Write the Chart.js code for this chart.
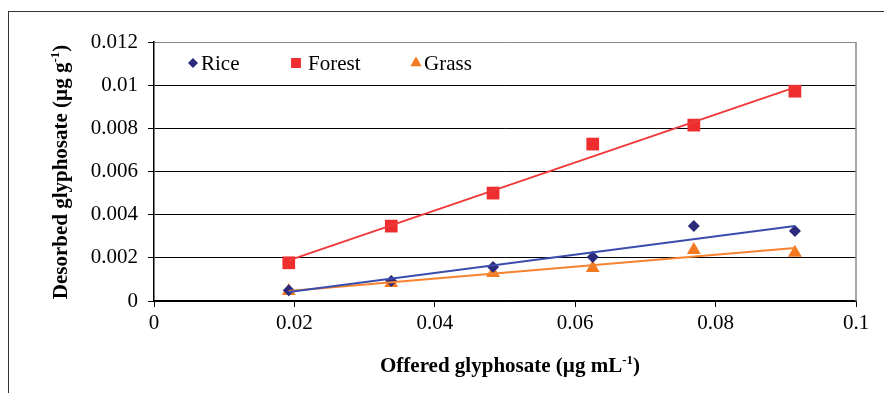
<!DOCTYPE html>
<html>
<head>
<meta charset="utf-8">
<script src="https://cdn.jsdelivr.net/npm/chart.js@4.4.0/dist/chart.umd.min.js"></script>
<style>
  body { margin: 0; background: #fff; }
  .wrap { position: relative; width: 884px; height: 393px; overflow: hidden; }
  .frame { position: absolute; left: 8px; top: 11px; width: 1000px; height: 500px; border-left: 1px solid #333; border-top: 1px solid #333; }
  canvas { position: absolute; left: 0; top: 0; }
</style>
</head>
<body>
<div class="wrap">
  <div class="frame"></div>
  <canvas id="chart" width="884" height="393"></canvas>
</div>
<script>
// offered glyphosate (x) and desorbed glyphosate per soil (y)
const offered = [0.0192, 0.0338, 0.0483, 0.0625, 0.0769, 0.0913]
const rice = [0.0005, 0.00093, 0.00157, 0.00204, 0.00347, 0.00324]
const forest = [0.00177, 0.00347, 0.005, 0.00727, 0.00815, 0.00972]
const grass = [0.00046, 0.00083, 0.0013, 0.00153, 0.00236, 0.00224]

// trendline ends, at first and last offered value
const trendX = [0.0192, 0.0913]
const riceTrend = [0.00042, 0.00348]
const forestTrend = [0.00188, 0.0099]
const grassTrend = [0.00046, 0.00245]

const xTickLabels = ["0", "0.02", "0.04", "0.06", "0.08", "0.1"]
const yTickLabels = ["0", "0.002", "0.004", "0.006", "0.008", "0.01", "0.012"]

const serif = "'Liberation Serif', 'Times New Roman', serif"

const toPoints = (xs, ys) => xs.map((x, i) => ({ x: x, y: ys[i] }))

const series = [
  { label: "Rice", data: rice, trend: riceTrend, marker: "#2B2A7B", line: "#3A4DAD", style: "rectRot", r: 6 },
  { label: "Forest", data: forest, trend: forestTrend, marker: "#EE2E2E", line: "#EE3A3A", style: "rect", r: 9 },
  { label: "Grass", data: grass, trend: grassTrend, marker: "#F47A22", line: "#F5832F", style: "triangle", r: 8 },
]

const datasets = []
series.forEach((s) => {
  datasets.push({
    label: s.label,
    data: toPoints(offered, s.data),
    showLine: false,
    pointStyle: s.style,
    pointRadius: s.r,
    pointBackgroundColor: s.marker,
    pointBorderColor: s.marker,
    pointBorderWidth: 0,
    order: 2,
  })
  datasets.push({
    label: s.label + " trend",
    data: toPoints(trendX, s.trend),
    showLine: true,
    borderColor: s.line,
    borderWidth: 2,
    pointRadius: 0,
    order: 1,
  })
})

// text with a superscript part, e.g. ["(µg g", "-1", ")"]
function drawSupText(ctx, parts, size) {
  const big = `bold ${size}px ${serif}`
  const small = `bold ${Math.round(size * 0.6)}px ${serif}`
  let total = 0
  parts.forEach((p, i) => {
    ctx.font = i % 2 ? small : big
    total += ctx.measureText(p).width
  })
  let x = -total / 2
  parts.forEach((p, i) => {
    ctx.font = i % 2 ? small : big
    ctx.fillText(p, x, i % 2 ? -size * 0.4 : 0)
    x += ctx.measureText(p).width
  })
}

const decorations = {
  id: "decorations",
  beforeDatasetsDraw(chart) {
    const { ctx, chartArea } = chart
    ctx.save()
    ctx.strokeStyle = "#888"
    ctx.lineWidth = 1.5
    ctx.beginPath()
    ctx.moveTo(chartArea.right, chartArea.top)
    ctx.lineTo(chartArea.right, chartArea.bottom)
    ctx.stroke()
    ctx.restore()
  },
  afterDraw(chart) {
    const { ctx } = chart
    ctx.save()
    ctx.fillStyle = "#000"
    ctx.textBaseline = "alphabetic"
    ctx.textAlign = "left"
    // x title
    ctx.save()
    ctx.translate(510, 372)
    drawSupText(ctx, ["Offered glyphosate (µg mL", "-1", ")"], 21)
    ctx.restore()
    // y title
    ctx.save()
    ctx.translate(67, 172)
    ctx.rotate(-Math.PI / 2)
    drawSupText(ctx, ["Desorbed glyphosate (µg g", "-1", ")"], 21)
    ctx.restore()
    // legend inside plot
    const spots = [[193, 201], [296, 308], [416, 424]]
    const sizes = [5, 7, 6.5]
    series.forEach((s, i) => {
      ctx.fillStyle = s.marker
      ctx.strokeStyle = s.marker
      Chart.helpers.drawPoint(ctx, { pointStyle: s.style, radius: sizes[i], borderWidth: 0 }, spots[i][0], 63)
      ctx.fillStyle = "#000"
      ctx.font = `21px ${serif}`
      ctx.fillText(s.label, spots[i][1], 70)
    })
    ctx.restore()
  },
}

new Chart(document.getElementById("chart"), {
  type: "scatter",
  data: { datasets: datasets },
  plugins: [decorations],
  options: {
    responsive: false,
    animation: false,
    layout: { padding: { left: 0, top: 42, right: 28, bottom: 0 } },
    plugins: { legend: { display: false }, tooltip: { enabled: false } },
    scales: {
      x: {
        type: "linear",
        min: 0,
        max: 0.1,
        afterFit: (s) => { s.height = 92 },
        afterBuildTicks: (s) => { s.ticks = xTickLabels.map((t) => ({ value: Number(t) })) },
        ticks: {
          callback: (v, i) => xTickLabels[i],
          font: { family: serif, size: 21 },
          color: "#000",
          padding: 4,
          maxRotation: 0,
        },
        grid: { drawOnChartArea: false, color: "#000", tickLength: 6 },
        border: { color: "#000", width: 1.5 },
      },
      y: {
        min: 0,
        max: 0.012,
        afterFit: (s) => { s.width = 154 },
        afterBuildTicks: (s) => { s.ticks = yTickLabels.map((t) => ({ value: Number(t) })) },
        ticks: {
          callback: (v, i) => yTickLabels[i],
          font: { family: serif, size: 21 },
          color: "#000",
          padding: 10,
        },
        grid: {
          color: (c) => (c.tick && c.tick.value === 0.012 ? "#888" : "#000"),
          tickColor: "#000",
          tickLength: 6,
          lineWidth: 1,
        },
        border: { color: "#000", width: 1.5 },
      },
    },
  },
})
</script>
</body>
</html>
